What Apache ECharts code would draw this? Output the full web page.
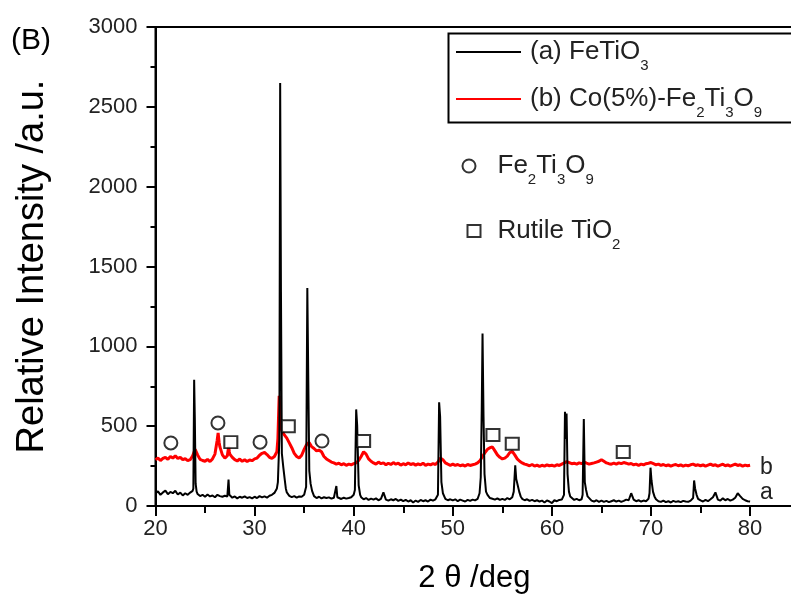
<!DOCTYPE html>
<html>
<head>
<meta charset="utf-8">
<script src="https://cdn.jsdelivr.net/npm/echarts@6/dist/echarts.min.js"></script>
<style>
  html, body { margin: 0; padding: 0; background: #fff; }
  #chart { width: 791px; height: 606px; }
</style>
</head>
<body>
<div id="chart"></div>
<script>
// XRD patterns: background counts on a 0.25 deg grid from 20 to 80 deg
// (null where a sharp reflection is listed separately), plus reflections as [2theta, counts].
const angleStart = 20;
const angleStep = 0.25;

// (a) FeTiO3 background
const backgroundA = [
  78, 92, 70, 85, 96, 74, 88, 80, 95, 72, 84, 66, 80, 70, 84, 95, null, 75, 62, 70,
  58, 72, 60, 66, 55, 70, 62, 58, 64, 60, 62, 52, 60, 48, 58, 52, 60, 50, 56, 48,
  58, 50, 62, 54, 60, 52, 64, 70, 82, 110, null, null, null, 85, 64, 56, 62, 52, 60, 58,
  70, null, null, null, 62, 50, 58, 48, 55, 50, 54, 46, 52, null, 50, 44, 52, 46, 50, 55,
  70, null, null, 55, 42, 50, 38, 46, 40, 48, 36, 44, 85, 40, 34, 42, 36, 44, 32, 40,
  30, 38, 28, 36, 22, 34, 26, 38, 30, 36, 28, 40, 34, 42, null, null, null, 45, 36, 42,
  35, 42, 30, 40, 34, 28, 38, 32, 40, 35, 44, null, null, null, 70, 50, 45, 40, 48, 38,
  45, 38, 50, 42, 55, null, null, null, 45, 36, 42, 32, 38, 30, 36, 28, 34, 22, 35, 28,
  18, 36, 30, 38, 40, null, null, null, 50, 38, 45, 36, 42, null, null, 50, 34, 28, 36, 26,
  34, 26, 32, 24, 30, 36, 28, 34, 26, 32, 40, 36, 80, 40, 30, 36, 28, 34, 30, 45,
  null, null, 42, 30, 26, 34, 24, 30, 22, 32, 26, 30, 24, 32, 28, 26, 34, null, null, 45,
  35, 28, 38, 30, 42, 55, 85, 40, 34, 48, 36, 44, 34, 40, 52, 80, 62, 45, 36, 30,
  28
];

// (a) FeTiO3 reflections
const reflectionsA = [
  [[23.82, 110], [23.9, 790], [23.97, 540], [24.05, 140], [24.15, 90]],
  [[27.3, 70], [27.37, 165], [27.45, 70]],
  [[32.35, 150], [32.5, 420], [32.58, 2650], [32.66, 1340], [32.75, 330], [32.9, 240], [33.05, 160], [33.15, 110]],
  [[35.2, 120], [35.32, 1365], [35.42, 780], [35.52, 220], [35.65, 140], [35.8, 95]],
  [[38.15, 55], [38.25, 125], [38.35, 55]],
  [[40.12, 100], [40.25, 605], [40.35, 505], [40.5, 130], [40.65, 70]],
  [[48.5, 70], [48.62, 650], [48.72, 560], [48.85, 150], [49.0, 80]],
  [[52.7, 80], [52.82, 180], [52.92, 600], [53.0, 1080], [53.1, 560], [53.2, 200], [53.35, 90]],
  [[56.15, 90], [56.3, 255], [56.4, 170], [56.55, 130], [56.7, 90], [56.85, 60]],
  [[61.22, 70], [61.32, 590], [61.4, 420], [61.48, 580], [61.58, 200], [61.72, 90], [61.85, 60]],
  [[63.1, 70], [63.22, 545], [63.32, 150], [63.45, 100], [63.6, 60]],
  [[69.85, 80], [69.95, 240], [70.05, 160], [70.2, 90], [70.35, 60]],
  [[74.25, 50], [74.35, 160], [74.45, 110], [74.6, 70]]
];

// (b) Co(5%)-Fe2Ti3O9 background
const backgroundB = [
  290, 300, 285, 298, 305, 292, 310, 300, 315, 298, 305, 290, 296, 284, 290, 315, 355, 320, 292, 285,
  280, 292, 278, 295, 325, null, 370, 320, 300, 315, 325, 305, 290, 282, 294, 280, 290, 278, 288, 284,
  295, 300, 318, 330, 335, 322, 305, 298, 310, 340, null, null, 445, 425, 395, 365, 330, 310, 300, 318,
  355, 385, 398, 372, 360, 345, 350, 340, 310, 295, 285, 275, 270, 262, 268, 258, 265, 255, 262, 258,
  265, 270, 285, 310, 340, 325, 295, 280, 270, 262, 275, 265, 270, 258, 268, 260, 272, 262, 268, 256,
  265, 258, 270, 260, 266, 256, 264, 258, 268, 255, 262, 258, 265, 260, 275, 300, 290, 270, 262, 255,
  262, 254, 260, 252, 258, 250, 260, 254, 258, 262, 270, 285, 310, 335, 355, 365, 370, 345, 320, 305,
  295, 300, 312, 335, 342, 320, 295, 280, 270, 262, 258, 252, 260, 250, 256, 248, 255, 250, 258, 252,
  255, 250, 258, 254, 262, 270, 278, 272, 265, 268, 262, 270, 265, 275, 268, 262, 266, 270, 275, 280,
  290, 280, 270, 265, 262, 268, 262, 270, 265, 272, 268, 262, 266, 258, 262, 255, 262, 258, 265, 268,
  272, 265, 258, 262, 254, 260, 252, 258, 250, 256, 260, 252, 258, 250, 256, 252, 258, 262, 254, 258,
  252, 258, 250, 256, 262, 254, 258, 250, 256, 262, 252, 258, 250, 256, 262, 254, 258, 250, 256, 252,
  255
];

// (b) Co(5%)-Fe2Ti3O9 reflections
const reflectionsB = [
  [[26.22, 410], [26.32, 457], [26.42, 400]],
  [[27.38, 372], [27.45, 340]],
  [[32.35, 420], [32.48, 690], [32.58, 560], [32.7, 480], [32.85, 460]]
];

// Phase assignments marked above pattern (b)
const markFe2Ti3O9 = [[21.55, 395], [26.3, 520], [30.55, 400], [36.8, 407]];
const markRutile = [[27.6, 400], [33.4, 500], [41.0, 407], [54.05, 445], [56.0, 390], [67.2, 338]];

const seriesNames = ['FeTiO3', 'Co(5%)-Fe2Ti3O9', 'Fe2Ti3O9', 'Rutile TiO2'];
const seriesLabels = [
  '{l|(a) FeTiO}{s|3}',
  '{l|(b) Co(5%)-Fe}{s|2}{n|Ti}{s|3}{n|O}{s|9}',
  '{c|Fe}{s|2}{n|Ti}{s|3}{n|O}{s|9}',
  '{r|Rutile TiO}{s|2}'
];
const curveTags = ['a', 'b'];

const xTicks = [20, 30, 40, 50, 60, 70, 80];
const yTicks = [0, 500, 1000, 1500, 2000, 2500, 3000];

function buildPattern(background, reflections) {
  const pts = [];
  background.forEach(function (v, i) {
    if (v !== null) pts.push([angleStart + i * angleStep, v]);
  });
  reflections.forEach(function (group) {
    group.forEach(function (p) { pts.push(p); });
  });
  pts.sort(function (a, b) { return a[0] - b[0]; });
  return pts;
}

const FONT = '"Liberation Sans", Arial, sans-serif';
const TEXT = '#222';
const richStyles = {
  n: { fontFamily: FONT, fontSize: 26, color: TEXT, padding: [8, 0, 8, 0], verticalAlign: 'bottom' },
  l: { fontFamily: FONT, fontSize: 26, color: TEXT, padding: [8, 0, 8, 4], verticalAlign: 'bottom' },
  c: { fontFamily: FONT, fontSize: 26, color: TEXT, padding: [8, 0, 8, 17], verticalAlign: 'bottom' },
  r: { fontFamily: FONT, fontSize: 26, color: TEXT, padding: [8, 0, 8, 12], verticalAlign: 'bottom' },
  s: { fontFamily: FONT, fontSize: 15, color: TEXT, verticalAlign: 'bottom' }
};
function legendText(name) {
  return seriesLabels[seriesNames.indexOf(name)];
}

const chart = echarts.init(document.getElementById('chart'), null, { renderer: 'canvas' });

const option = {
  animation: false,
  backgroundColor: '#fff',
  grid: {
    left: 155.5, top: 27, height: 479, width: 693.7,
    outerBoundsMode: 'none',
    show: true, borderColor: '#000', borderWidth: 2, backgroundColor: 'transparent'
  },
  xAxis: {
    type: 'value', min: 20, max: 90, interval: 10,
    name: '2 θ /deg', nameLocation: 'middle', nameGap: 57,
    nameTextStyle: { fontFamily: FONT, fontSize: 31, color: '#000', padding: [0, 56, 0, 0] },
    axisLine: { lineStyle: { color: '#000', width: 2 } },
    axisTick: { inside: false, length: 10, lineStyle: { color: '#000', width: 2 } },
    minorTick: { show: true, splitNumber: 2, length: 7, lineStyle: { color: '#000', width: 2 } },
    axisLabel: {
      margin: 12, fontFamily: FONT, fontSize: 22, color: TEXT,
      formatter: function (v) { return xTicks.indexOf(v) >= 0 ? String(v) : ''; }
    },
    splitLine: { show: false }
  },
  yAxis: {
    type: 'value', min: 0, max: 3000, interval: 500,
    name: 'Relative Intensity /a.u.', nameLocation: 'middle', nameGap: 104,
    nameTextStyle: { fontFamily: FONT, fontSize: 38, color: '#000' },
    axisLine: { show: true, lineStyle: { color: '#000', width: 2 } },
    axisTick: { show: true, inside: false, length: 9, lineStyle: { color: '#000', width: 2 } },
    minorTick: { show: true, splitNumber: 2, length: 5, lineStyle: { color: '#000', width: 2 } },
    axisLabel: {
      margin: 18, fontFamily: FONT, fontSize: 22, color: TEXT,
      formatter: function (v) { return yTicks.indexOf(v) >= 0 ? String(v) : ''; }
    },
    splitLine: { show: false }
  },
  legend: [
    {
      data: [
        { name: seriesNames[0], icon: 'rect' },
        { name: seriesNames[1], icon: 'rect' }
      ],
      orient: 'vertical', left: 456, top: 39, padding: 0, itemGap: 13,
      itemWidth: 65, itemHeight: 2,
      formatter: legendText,
      textStyle: { rich: richStyles }
    },
    {
      data: [seriesNames[2]],
      orient: 'vertical', left: 461.5, top: 153, padding: 0,
      itemWidth: 13, itemHeight: 13,
      formatter: legendText,
      textStyle: { rich: richStyles }
    },
    {
      data: [seriesNames[3]],
      orient: 'vertical', left: 466.5, top: 218, padding: 0,
      itemWidth: 13, itemHeight: 12,
      formatter: legendText,
      textStyle: { rich: richStyles }
    }
  ],
  graphic: [
    {
      type: 'rect', left: 446, top: 31, silent: true,
      shape: { width: 400, height: 89 },
      style: { fill: 'none', stroke: '#000', lineWidth: 2 }
    },
    {
      type: 'text', left: 11, top: 26, silent: true,
      style: { text: '(B)', font: '30px ' + FONT, fill: '#000' }
    }
  ],
  series: [
    {
      name: seriesNames[1], type: 'line',
      data: buildPattern(backgroundB, reflectionsB),
      symbol: 'none', color: '#ff0000',
      lineStyle: { color: '#ff0000', width: 3 },
      endLabel: { show: true, formatter: curveTags[1], fontFamily: FONT, fontSize: 23, color: TEXT, offset: [2, 2] },
      z: 2
    },
    {
      name: seriesNames[0], type: 'line',
      data: buildPattern(backgroundA, reflectionsA),
      symbol: 'none', color: '#000',
      lineStyle: { color: '#000', width: 2 },
      endLabel: { show: true, formatter: curveTags[0], fontFamily: FONT, fontSize: 23, color: TEXT, offset: [2, -9] },
      z: 3
    },
    {
      name: seriesNames[2], type: 'scatter', data: markFe2Ti3O9,
      symbol: 'emptyCircle', symbolSize: 13,
      itemStyle: { color: '#000', borderColor: '#000', borderWidth: 1.6 },
      z: 4
    },
    {
      name: seriesNames[3], type: 'scatter', data: markRutile,
      symbol: 'emptyRect', symbolSize: [13, 12],
      itemStyle: { color: '#000', borderColor: '#000', borderWidth: 1.6 },
      z: 4
    }
  ]
};

chart.setOption(option);
</script>
</body>
</html>
